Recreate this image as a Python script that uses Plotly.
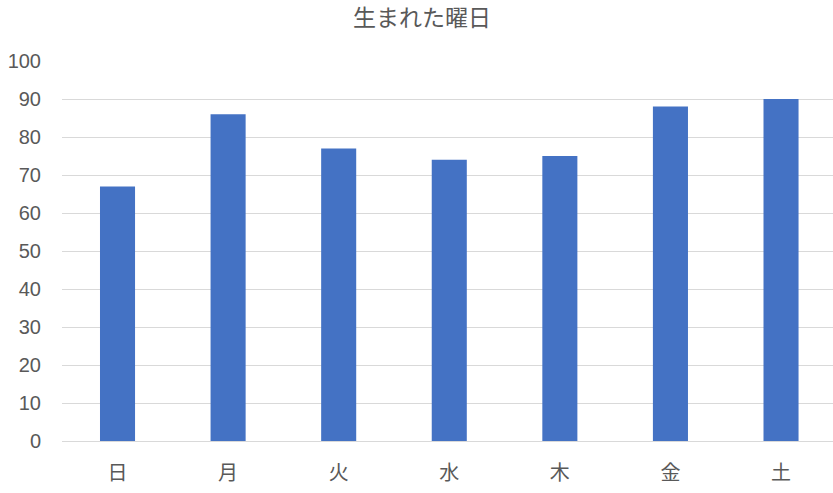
import plotly.graph_objects as go

days = ["日", "月", "火", "水", "木", "金", "土"]
counts = [67, 86, 77, 74, 75, 88, 90]
y_ticks = [0, 10, 20, 30, 40, 50, 60, 70, 80, 90, 100]

fig = go.Figure(go.Bar(x=days, y=counts, marker_color="#4472C4", marker_line_width=0))

W, H = 833, 493
fig.update_layout(
    width=W, height=H,
    paper_bgcolor="white", plot_bgcolor="white",
    margin=dict(l=62, r=0, t=61, b=52),
    bargap=0.683,
    title=dict(text="生まれた曜日", x=422 / W, xanchor="center", y=1 - 18 / H, yanchor="middle",
               font=dict(family="Noto Sans CJK JP", size=23, color="#595959")),
    font=dict(family="Liberation Sans, Noto Sans CJK JP", size=20, color="#595959"),
    showlegend=False,
)
fig.update_yaxes(range=[0, 100], tickvals=y_ticks, showgrid=True, gridcolor="#D9D9D9",
                 gridwidth=1, zeroline=False, showline=False, ticks="", ticklabelstandoff=20,
                 tickfont=dict(family="Liberation Sans", size=20, color="#595959"))
fig.update_xaxes(range=[-0.502, 6.47], showline=True, linecolor="#D9D9D9", linewidth=1, ticks="",
                 tickfont=dict(family="Noto Sans CJK JP", size=20, color="#595959"),
                 ticklabelstandoff=14)

fig.write_html("out.html", config={"displayModeBar": False},
               post_script="document.body.style.margin='0';")
